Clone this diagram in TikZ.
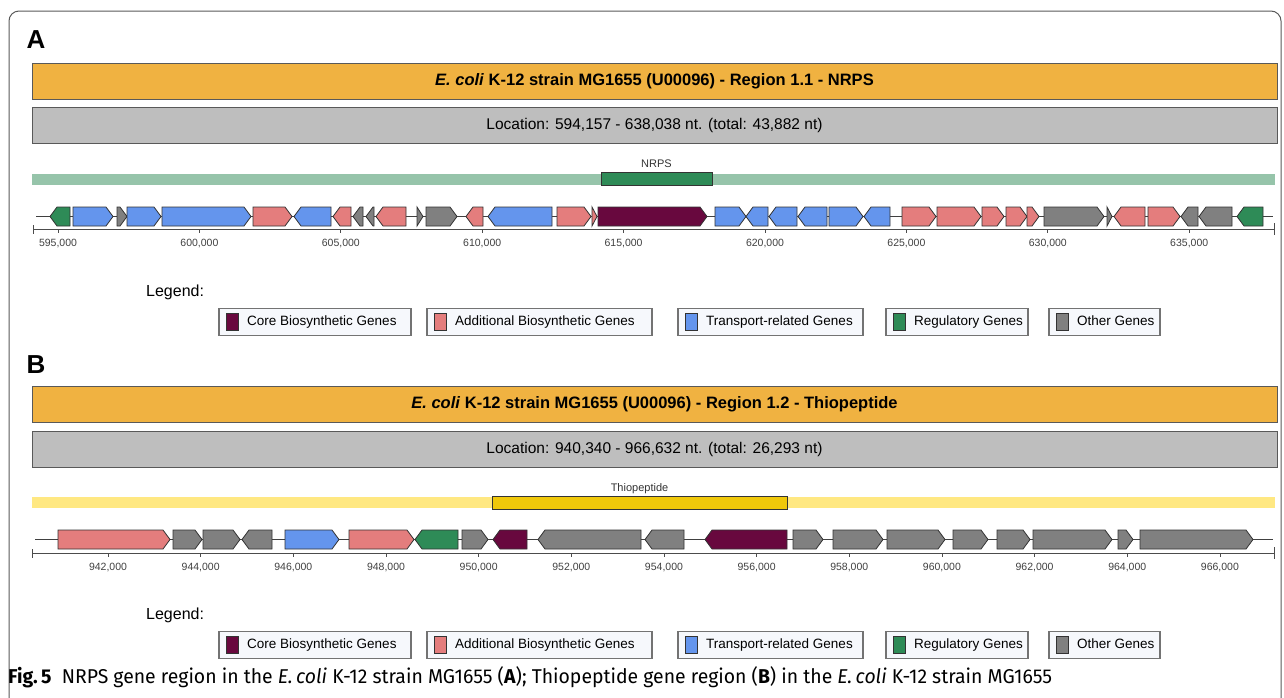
\documentclass[tikz,border=0pt]{standalone}
\usepackage{fontspec}
\setmainfont{Liberation Sans}
\newfontfamily\capfont[FakeStretch=0.97]{Fira Sans}
\usetikzlibrary{calc}
\definecolor{hdr}{RGB}{240,178,65}
\definecolor{loc}{RGB}{190,190,190}
\definecolor{core}{RGB}{104,8,62}
\definecolor{addl}{RGB}{228,125,125}
\definecolor{trans}{RGB}{100,149,237}
\definecolor{regul}{RGB}{46,139,87}
\definecolor{other}{RGB}{128,128,128}
\definecolor{nrpsbar}{RGB}{150,196,170}
\definecolor{thiobar}{RGB}{255,232,130}
\definecolor{thio}{RGB}{240,200,10}
\definecolor{legfill}{RGB}{246,248,252}
\def\gtop{0}\def\gbot{0}\def\gmid{0}
\newcommand\settrack[1]{\def\gmid{#1}\pgfmathsetmacro\gtop{#1-9.5}\pgfmathsetmacro\gbot{#1+9.5}}
\newcommand\gene[3]{\pgfmathsetmacro\hd{sign(#2-#1)*min(7,abs(#2-#1))}%
  \draw[gene,fill=#3] (#1,\gtop) -- ({#2-\hd},\gtop) -- (#2,\gmid) -- ({#2-\hd},\gbot) -- (#1,\gbot) -- cycle;}

\begin{document}
\begin{tikzpicture}[x=1pt,y=-1pt,
    gene/.style={draw=black!80,line width=0.8pt,line join=miter},
    bar/.style={draw=black!65,line width=0.9pt,minimum width=1245pt,minimum height=36pt,inner sep=0pt},
    tick/.style={draw=black!70,line width=0.8pt},
    ticklbl/.style={font=\fontsize{10.5}{11}\selectfont,text=black!75,inner sep=0pt},
    legbox/.style={draw=black!55,line width=1.2pt,fill=legfill,minimum height=27pt,inner sep=0pt},
    legtxt/.style={font=\fontsize{13.5}{14}\selectfont,anchor=west,inner sep=0pt,text height=10pt,text depth=3pt}]
  \useasboundingbox (0,0) rectangle (1284,697);
  \clip (0,0) rectangle (1284,697);
  \draw[black!65,line width=1pt,rounded corners=10pt] (9,11) rectangle (1281,730);

  \node[font=\fontsize{26}{26}\selectfont\bfseries] (labA) at (36,40) {A};
  \node[bar,fill=hdr] (hdrA) at (654.5,81) {\fontsize{16.5}{17}\selectfont\bfseries\textit{E. coli} K-12 strain MG1655 (U00096) - Region 1.1 - NRPS};
  \node[bar,fill=loc] (locA) at (654.5,125) {\fontsize{15.5}{16}\selectfont Location: 594,157 - 638,038 nt. (total: 43,882 nt)};
  \fill[nrpsbar] (32,174) rectangle (1275,185);
  \node[draw=black!80,line width=0.8pt,fill=regul,minimum width=111pt,minimum height=13pt,inner sep=0pt] (nrps) at (656.5,178.5) {};
  \node[font=\fontsize{11}{12}\selectfont,text=black!80] (nrpsl) at (656.5,164) {NRPS};

  \settrack{216.5}
  \draw[black!75,line width=0.8pt] (36,216.5) -- (1273,216.5);
  \foreach \a/\b/\c in {70/50/regul,73/113/trans,117/127/other,127/161/trans,162/251/trans,
      253/292/addl,331/294/trans,351/333/addl,363/353/other,374/366/other,406/376/addl,
      417/423/other,426/457/other,483/466/addl,552/488/trans,557/591/addl,592/597/addl,
      598/707/core,715/746/trans,768/746/trans,797/769/trans,827/798/trans,829/863/trans,
      890/864/trans,902/936/addl,937/981/addl,982/1004/addl,1006/1027/addl,1027/1039/addl,
      1044/1104/other,1107/1112/other,1145/1114/addl,1148/1180/addl,1198/1181/other,
      1232/1199/other,1263/1237/regul}
    \gene{\a}{\b}{\c};
  \draw[tick] (33,229) -- (1274,229) (33,225) -- (33,234) (1274,223) -- (1274,235);
  \foreach \i [evaluate=\i as \x using {58+(\i-595)*28.28}] in {595,600,...,635} {
    \draw[tick] (\x,229) -- (\x,233);
    \node[ticklbl] (tA\i) at (\x,243) {\i,000};
  }

  \node[font=\fontsize{26}{26}\selectfont\bfseries] (labB) at (36,365) {B};
  \node[bar,fill=hdr] (hdrB) at (654.5,404) {\fontsize{16.5}{17}\selectfont\bfseries\textit{E. coli} K-12 strain MG1655 (U00096) - Region 1.2 - Thiopeptide};
  \node[bar,fill=loc] (locB) at (654.5,449) {\fontsize{15.5}{16}\selectfont Location: 940,340 - 966,632 nt. (total: 26,293 nt)};
  \fill[thiobar] (32,497) rectangle (1275,508);
  \node[draw=black!80,line width=0.8pt,fill=thio,minimum width=295pt,minimum height=13pt,inner sep=0pt] (thio) at (639.5,502.5) {};
  \node[font=\fontsize{11}{12}\selectfont,text=black!80] (thiol) at (639.5,489) {Thiopeptide};

  \settrack{539.5}
  \draw[black!75,line width=0.8pt] (35,539.5) -- (1273,539.5);
  \foreach \a/\b/\c in {58/170/addl,173/202/other,203/240/other,272/242/other,285/339/trans,
      349/414/addl,458/415/regul,462/488/other,527/493/core,641/538/other,684/645/other,
      787/705/core,793/823/other,833/883/other,887/945/other,953/988/other,997/1030/other,
      1033/1112/other,1118/1133/other,1140/1253/other}
    \gene{\a}{\b}{\c};
  \draw[tick] (32,553) -- (1274,553) (32,549) -- (32,558) (1274,547) -- (1274,559);
  \foreach \i [evaluate=\i as \x using {108+(\i-942)*46.33}] in {942,944,...,966} {
    \draw[tick] (\x,553) -- (\x,557);
    \node[ticklbl] (tB\i) at (\x,567) {\i,000};
  }

  \foreach \ly/\gy/\s in {292/322/A,614/645/B} {
    \node[font=\fontsize{16}{17}\selectfont,anchor=west,inner sep=0pt] (leg\s) at (146,\gy-30) {Legend:};
    \foreach \l/\r/\c/\t [count=\k] in {219/411/core/Core Biosynthetic Genes,
        427/652/addl/Additional Biosynthetic Genes,678/863/trans/Transport-related Genes,
        886/1028/regul/Regulatory Genes,1049/1160/other/Other Genes} {
      \node[legbox,minimum width=\r-\l] (box\s\k) at ({(\l+\r)/2},\gy) {};
      \fill[\c,draw=black!80,line width=0.8pt] (\l+7,\gy-8.5) rectangle (\l+19,\gy+8.5);
      \node[legtxt] (txt\s\k) at (\l+28,\gy) {\t};
    }
  }

  \node[anchor=base west,inner sep=0pt,font=\capfont\fontsize{20}{21}\selectfont] (cap) at (8,683)
    {\textbf{Fig.\,5}\ \ NRPS gene region in the \textit{E.\,coli} K-12 strain MG1655 (\textbf{A}); Thiopeptide gene region (\textbf{B}) in the \textit{E.\,coli} K-12 strain MG1655};
\end{tikzpicture}
\end{document}
